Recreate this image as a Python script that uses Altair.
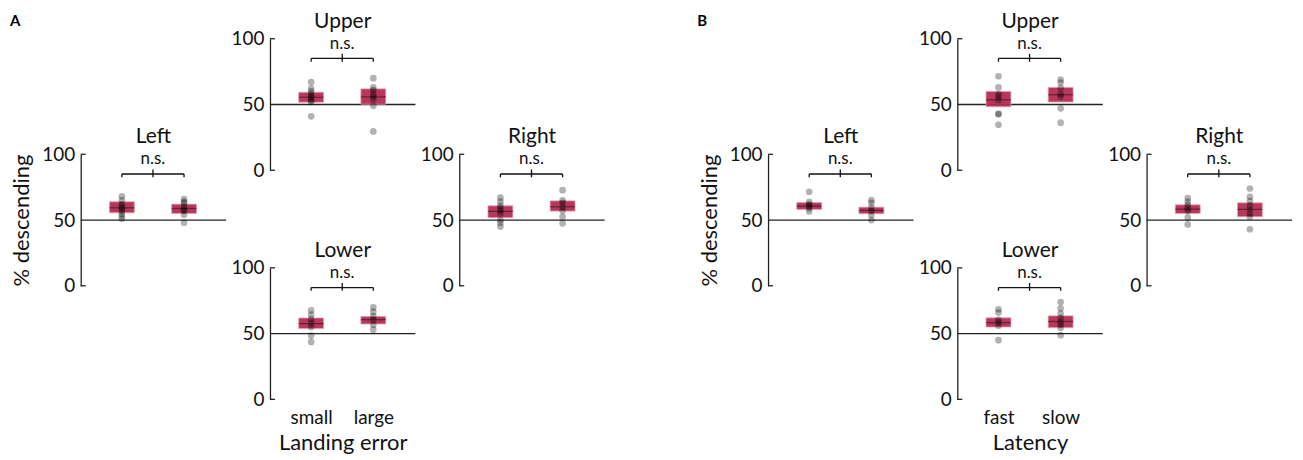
import altair as alt
import pandas as pd

FONT = "Lato"

# ---------------- data ----------------
cats_a = ["small", "large"]
cats_b = ["fast", "slow"]
xtitle_a = "Landing error"
xtitle_b = "Latency"
panel_letters = ["A", "B"]

# panel A : points, mean, box low/high for [group0, group1]
a_left_pts = [[68, 65, 62, 60, 59, 57, 55, 53, 51], [66, 64, 63, 60, 58, 57, 54, 48]]
a_left_mean = [59.3, 58.8]
a_left_lo = [55.5, 55.0]
a_left_hi = [63.9, 62.1]

a_upper_pts = [[67, 62, 60, 58, 56, 55, 53, 52, 41], [70, 63, 61, 58, 56, 54, 49, 29.5]]
a_upper_mean = [55.5, 55.8]
a_upper_lo = [51.7, 50.2]
a_upper_hi = [59.3, 61.9]

a_right_pts = [[67, 64, 61, 59, 57, 55, 50, 48, 45], [72.7, 65, 63, 60, 57, 52.5, 47.5]]
a_right_mean = [56.6, 60.1]
a_right_lo = [51.8, 56.8]
a_right_hi = [60.8, 64.6]

a_lower_pts = [[67.7, 64.4, 61, 58, 55, 48.5, 43.7], [69.9, 66.7, 63.4, 60.5, 56.8, 53]]
a_lower_mean = [57.6, 60.6]
a_lower_lo = [53.8, 57.3]
a_lower_hi = [61.9, 63.1]

# panel B
b_left_pts = [[71.5, 63.9, 62, 60.6, 59, 56.5], [65.2, 63.1, 59.5, 57, 53.8, 50]]
b_left_mean = [60.6, 57.3]
b_left_lo = [58.1, 54.8]
b_left_hi = [63.4, 59.8]

b_upper_pts = [[71.5, 63, 58, 56, 53.5, 43, 42.6, 34.6], [69, 66.7, 62.6, 58, 56, 47.1, 36.2]]
b_upper_mean = [53.5, 57.4]
b_upper_lo = [48.3, 51.9]
b_upper_hi = [59.9, 63.0]

b_right_pts = [[66.7, 64, 61.6, 59, 57, 52, 46.7], [74, 67.7, 64.4, 61, 58, 55, 52.5, 43]]
b_right_mean = [58.3, 58.1]
b_right_lo = [55.0, 52.5]
b_right_hi = [61.6, 63.1]

b_lower_pts = [[68.5, 66, 60.5, 58.5, 56, 45], [74, 69.2, 65.4, 62, 59, 57, 54.4, 48.8]]
b_lower_mean = [58.3, 59.2]
b_lower_lo = [55.0, 54.5]
b_lower_hi = [62.0, 63.5]

ref_level = [50]
axis_ticks = [0, 50, 100]
end_ticks = [0, 100]
# significance bracket (data units): level, leg bottom, centre tick top
bracket_level = 85
bracket_leg = 82.5
bracket_mid_top = 88.5
sig_label = "n.s."

BOX_COLOR = "#b52d55"
W = 146          # plot width of every sub-panel
PLOT_H = 132     # drawn height of the 0..100 axis
ROW_H = [116, 114, 132]   # layout row heights (sub-panels overlap vertically)
GAP_W = 76
XS = alt.Scale(domain=[-0.582, 1.597], nice=False, zero=False)
YS = alt.Scale(domain=[0, 100], range=[PLOT_H, 0], nice=False, zero=False)


def subplot(pos, cats, pts, mean, lo, hi, row_h, ytitle=None, xtitle=None):
    if xtitle is not None:
        expr = "datum.value == 0 ? '%s' : '%s'" % (cats[0], cats[1])
        xaxis = alt.Axis(values=[0, 1], labelExpr=expr, domain=False, ticks=False,
                         grid=False, title=xtitle, labelFontSize=19, labelPadding=9,
                         titleFontSize=22, titlePadding=5, labelColor="#111",
                         titleColor="#111", titleFontWeight="normal", labelFont=FONT,
                         titleFont=FONT)
    else:
        xaxis = None
    yaxis = alt.Axis(values=axis_ticks, ticks=False, grid=False, domainColor="#222",
                     domainWidth=1.3, labelFontSize=19, labelPadding=6, labelColor="#111",
                     title=ytitle if ytitle else None, titleFontSize=22, titlePadding=8,
                     titleColor="#111", titleFontWeight="normal", labelFont=FONT,
                     titleFont=FONT)

    def X(f):
        return alt.X(f, type="quantitative", scale=XS, axis=xaxis, title=xtitle)

    def Y(f):
        return alt.Y(f, type="quantitative", scale=YS, axis=yaxis, title=ytitle)

    grp = pd.DataFrame({"x": [0, 1], "mean": mean, "lo": lo, "hi": hi})
    rows = []
    for i, g in enumerate(pts):
        for v in g:
            rows.append({"x": i, "y": v})
    pdf = pd.DataFrame(rows)
    ref = pd.DataFrame({"y": ref_level})
    ticks = pd.DataFrame({"y": end_ticks})
    br = pd.DataFrame({
        "x": [0, 0, 1, 0.5],
        "x2": [1, 0, 1, 0.5],
        "y": [bracket_level, bracket_leg, bracket_leg, bracket_leg],
        "y2": [bracket_level, bracket_level, bracket_level, bracket_mid_top],
    })
    lab = pd.DataFrame({"x": [0.5], "y": [bracket_mid_top], "t": [sig_label]})

    base_line = alt.Chart(ref).mark_rule(color="#222", strokeWidth=1.3).encode(y=Y("y"))
    tick_marks = alt.Chart(ticks).mark_rule(color="#222", strokeWidth=1.3).encode(
        y=Y("y"), x=alt.value(0), x2=alt.value(5))
    boxes = alt.Chart(grp).mark_bar(size=25, color=BOX_COLOR, opacity=0.95,
                                    stroke="#e8a0b4", strokeWidth=0.8).encode(
        x=X("x"), y=Y("lo"), y2=alt.Y2("hi"))
    means = alt.Chart(grp).mark_tick(orient="horizontal", size=25, thickness=1.2,
                                     color="#3a1a24").encode(x=X("x"), y=Y("mean"))
    dots = alt.Chart(pdf).mark_circle(size=45, color="#000", opacity=0.3).encode(
        x=X("x"), y=Y("y"))
    bracket = alt.Chart(br).mark_rule(color="#111", strokeWidth=1.3).encode(
        x=X("x"), x2=alt.X2("x2"), y=Y("y"), y2=alt.Y2("y2"))
    ns = alt.Chart(lab).mark_text(fontSize=17, font=FONT, baseline="bottom", dy=-1,
                                  color="#111").encode(x=X("x"), y=Y("y"), text="t:N")
    layers = [base_line, boxes, means, dots, bracket, ns, tick_marks]
    return alt.layer(*layers).properties(
        width=W, height=row_h,
        title=alt.TitleParams(pos, fontSize=21, font=FONT, fontWeight="normal",
                              color="#111", offset=-2))


def spacer(w=W, letter=None):
    if letter is None:
        return alt.Chart(pd.DataFrame({"a": [0]})).mark_point(opacity=0).encode(
            x=alt.value(0), y=alt.value(0)).properties(width=w, height=1)
    return alt.Chart(pd.DataFrame({"t": [letter]})).mark_text(
        fontSize=15, fontWeight="bold", font=FONT, align="left", baseline="middle",
        color="#000").encode(x=alt.value(-71), y=alt.value(-18), text="t:N").properties(
        width=w, height=1)


def build(cats, xtitle, L, U, R, Lo):
    left = subplot("Left", cats, *L, row_h=ROW_H[1], ytitle="% descending")
    upper = subplot("Upper", cats, *U, row_h=ROW_H[0])
    right = subplot("Right", cats, *R, row_h=ROW_H[1])
    lower = subplot("Lower", cats, *Lo, row_h=ROW_H[2], xtitle=xtitle)
    return left, upper, right, lower


aL, aU, aR, aLo = build(cats_a, xtitle_a,
                        (a_left_pts, a_left_mean, a_left_lo, a_left_hi),
                        (a_upper_pts, a_upper_mean, a_upper_lo, a_upper_hi),
                        (a_right_pts, a_right_mean, a_right_lo, a_right_hi),
                        (a_lower_pts, a_lower_mean, a_lower_lo, a_lower_hi))
bL, bU, bR, bLo = build(cats_b, xtitle_b,
                        (b_left_pts, b_left_mean, b_left_lo, b_left_hi),
                        (b_upper_pts, b_upper_mean, b_upper_lo, b_upper_hi),
                        (b_right_pts, b_right_mean, b_right_lo, b_right_hi),
                        (b_lower_pts, b_lower_mean, b_lower_lo, b_lower_hi))

cells = [
    spacer(letter=panel_letters[0]), aU, spacer(), spacer(GAP_W),
    spacer(letter=panel_letters[1]), bU, spacer(),
    aL, spacer(), aR, spacer(GAP_W), bL, spacer(), bR,
    spacer(), aLo, spacer(), spacer(GAP_W), spacer(), bLo, spacer(),
]

chart = alt.concat(*cells, columns=7, bounds="flush",
                   spacing={"row": 0, "column": 44}).properties(
    padding={"left": 2, "top": 2, "right": 2, "bottom": 0}
).configure(background="white").configure_view(strokeWidth=0)

chart.save("out.html", embed_options={"renderer": "svg", "actions": False})
